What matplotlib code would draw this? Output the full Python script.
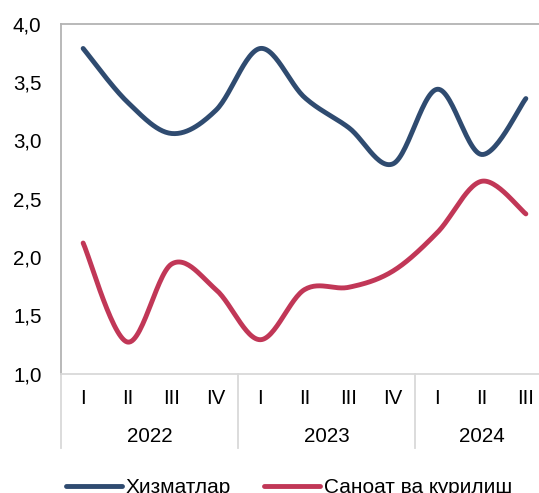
import numpy as np
import matplotlib
matplotlib.use('Agg')
import matplotlib.pyplot as plt

plt.rcParams['font.family'] = ['Liberation Sans', 'DejaVu Sans']

# quarterly data, 2022 Q1 .. 2024 Q3
quarters = ['I', 'II', 'III', 'IV', 'I', 'II', 'III', 'IV', 'I', 'II', 'III']
years = ['2022', '2023', '2024']
year_len = [4, 4, 3]
services = [3.79, 3.33, 3.06, 3.26, 3.79, 3.37, 3.11, 2.80, 3.44, 2.88, 3.36]
industry = [2.12, 1.27, 1.94, 1.72, 1.29, 1.72, 1.74, 1.88, 2.21, 2.65, 2.37]
yticks = [1.0, 1.5, 2.0, 2.5, 3.0, 3.5, 4.0]


def smooth(x, y, n=30):
    """Excel-like smoothed line (Catmull-Rom bezier)"""
    x = np.asarray(x, float)
    y = np.asarray(y, float)
    px = np.concatenate([[x[0]], x, [x[-1]]])
    py = np.concatenate([[y[0]], y, [y[-1]]])
    xs, ys = [], []
    t = np.linspace(0, 1, n)
    for i in range(1, len(px) - 2):
        p0 = np.array([px[i], py[i]])
        p3 = np.array([px[i + 1], py[i + 1]])
        c1 = p0 + (np.array([px[i + 1], py[i + 1]]) - np.array([px[i - 1], py[i - 1]])) / 6
        c2 = p3 - (np.array([px[i + 2], py[i + 2]]) - np.array([px[i], py[i]])) / 6
        b = (((1 - t) ** 3)[:, None] * p0 + (3 * (1 - t) ** 2 * t)[:, None] * c1
             + (3 * (1 - t) * t ** 2)[:, None] * c2 + (t ** 3)[:, None] * p3)
        xs.extend(b[:, 0])
        ys.extend(b[:, 1])
    return xs, ys


W, H = 539, 493
fig = plt.figure(figsize=(W / 100, H / 100), dpi=100)
ax = fig.add_axes([61 / W, 1 - 373.5 / H, 487 / W, 349.5 / H])

x = np.arange(len(quarters))
sx, sy = smooth(x, services)
ax.plot(sx, sy, color='#2F4B70', lw=3.5, solid_capstyle='round', label='Хизматлар')
sx, sy = smooth(x, industry)
ax.plot(sx, sy, color='#C13757', lw=3.5, solid_capstyle='round', label='Саноат ва қурилиш')

ax.set_xlim(-0.5, 10.5)
ax.set_ylim(1.0, 4.0)
ax.set_yticks(yticks)
ax.set_yticklabels([f'{v:.1f}'.replace('.', ',') for v in yticks])
ax.set_xticks([])
ax.tick_params(axis='y', length=0, pad=14, labelsize=14.8)

for s in ['left', 'top']:
    ax.spines[s].set_color('#B3B3B3')
    ax.spines[s].set_linewidth(1.3)
ax.spines['bottom'].set_color('#D9D9D9')
ax.spines['bottom'].set_linewidth(1.3)
ax.spines['right'].set_visible(False)

# category labels below axis
trans = ax.get_xaxis_transform()
for i, q in enumerate(quarters):
    ax.text(i, -0.072, q, transform=trans, ha='center', va='center', fontsize=14.8)
start = 0
for yr, n in zip(years, year_len):
    ax.text(start + (n - 1) / 2, -0.18, yr, transform=trans, ha='center', va='center', fontsize=14.8)
    ax.plot([start - 0.5, start - 0.5], [0, -0.213], transform=trans, color='#D9D9D9',
            lw=1.3, clip_on=False)
    start += n

fig.legend(loc='center', bbox_to_anchor=(289 / W, 1 - 487.5 / H), ncol=2, frameon=False,
           fontsize=15, handlelength=2.7, handletextpad=0.15, columnspacing=1.6)

fig.savefig('out.png', dpi=100)
